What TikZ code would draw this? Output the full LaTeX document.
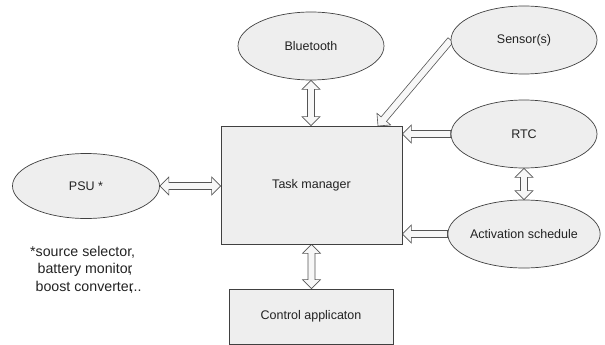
\documentclass[tikz,border=0pt]{standalone}
\usepackage{fontspec}
\setmainfont{Liberation Sans}
\usetikzlibrary{calc,shapes.geometric,backgrounds}
\definecolor{nodefill}{HTML}{EEEEEE}
\definecolor{nodeline}{HTML}{404040}
\definecolor{arrline}{HTML}{555555}
\definecolor{arrfill}{HTML}{F7F7F7}
\definecolor{txt}{HTML}{222222}
\tikzset{
  ell/.style={ellipse, draw=nodeline, fill=nodefill, line width=0.7pt,
    minimum width=146pt, minimum height=68pt, inner sep=0pt,
    font=\fontsize{12.5}{14}\selectfont, text=txt},
  boxn/.style={rectangle, draw=nodeline, fill=nodefill, line width=0.7pt,
    inner sep=0pt, font=\fontsize{12.5}{14}\selectfont, text=txt},
  barr/.style={draw=arrline, fill=arrfill, line width=0.6pt, line join=miter},
  note/.style={anchor=base west, inner sep=0pt,
    font=\fontsize{14.2}{17}\selectfont, text=txt}
}
% single block arrow from #1 to #2 (head at #2)
\newcommand\blkS[2]{%
  \coordinate (hb) at ($(#2)!9pt!(#1)$);
  \draw[barr] ($(#1)!3.5pt!90:(#2)$) -- ($(hb)!3.5pt!90:(#2)$)
    -- ($(hb)!9pt!90:(#2)$) -- (#2) -- ($(hb)!9pt!-90:(#2)$)
    -- ($(hb)!3.5pt!-90:(#2)$) -- ($(#1)!3.5pt!-90:(#2)$) -- cycle;}
% double block arrow between #1 and #2
\newcommand\blkD[2]{%
  \coordinate (hb) at ($(#2)!9pt!(#1)$);
  \coordinate (ha) at ($(#1)!9pt!(#2)$);
  \draw[barr] (#1) -- ($(ha)!9pt!90:(#2)$) -- ($(ha)!3.5pt!90:(#2)$)
    -- ($(hb)!3.5pt!90:(#2)$) -- ($(hb)!9pt!90:(#2)$) -- (#2)
    -- ($(hb)!9pt!-90:(#2)$) -- ($(hb)!3.5pt!-90:(#2)$)
    -- ($(ha)!3.5pt!-90:(#2)$) -- ($(ha)!9pt!-90:(#2)$) -- cycle;}
\begin{document}
\begin{tikzpicture}[x=1pt,y=-1pt]
\path[use as bounding box] (0,0) rectangle (605,345);

\node[ell] (bt)  at (311,46)  {Bluetooth};
\node[ell] (sen) at (524,40)  {Sensor(s)};
\node[ell] (rtc) at (524,134) {RTC};
\node[ell] (act) at (524,234) {Activation schedule};
\node[ell, minimum width=147pt, minimum height=65pt] (psu) at (86,186) {PSU *};
\node[boxn, minimum width=181pt, minimum height=118pt] (tm) at (311.5,185) {Task manager};
\node[boxn, minimum width=164pt, minimum height=55pt] (ctl) at (311,316.5) {Control applicaton};

\node[note] (n1) at (30,256.5)   {*source selector,};
\node[note] (n2) at (37.5,273.5) {battery monitor\llap{,}};
\node[note] (n3) at (35.5,291)   {boost converter\llap{,}..};

\coordinate (btend)  at (bt.south |- tm.north);
\coordinate (sentip) at (378,126);
\coordinate (psuend) at (psu.east -| tm.west);
\coordinate (rtcend) at (rtc.west -| tm.east);
\coordinate (actend) at (act.west -| tm.east);
\coordinate (ctlend) at (tm.south |- ctl.north);

\begin{scope}[on background layer]
\blkD{bt.south}{btend}
\blkS{sen.west}{sentip}
\blkD{psu.east}{psuend}
\blkS{rtc.west}{rtcend}
\blkS{act.west}{actend}
\blkD{rtc.south}{act.north}
\blkD{tm.south}{ctlend}
\end{scope}
\end{tikzpicture}
\end{document}
